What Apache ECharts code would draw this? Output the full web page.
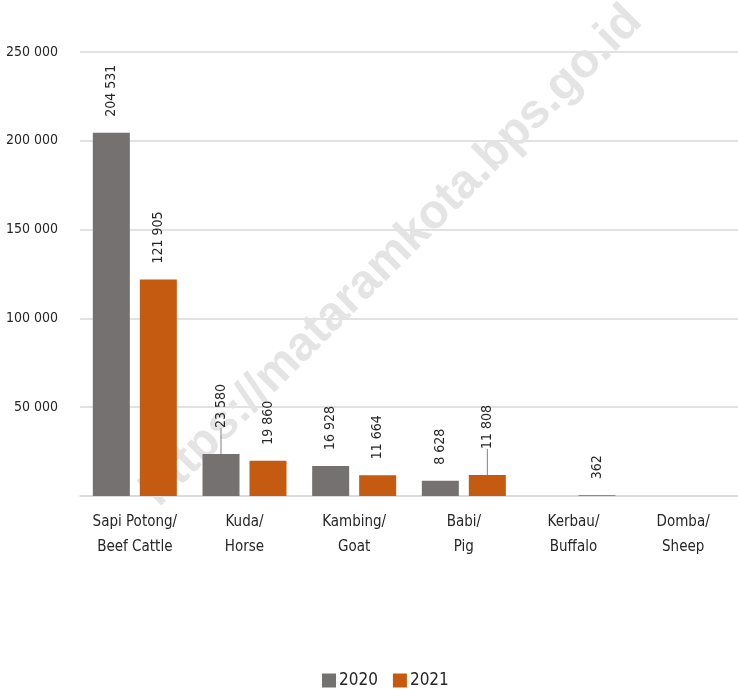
<!DOCTYPE html>
<html>
<head>
<meta charset="utf-8">
<script src="https://cdn.jsdelivr.net/npm/echarts@6/dist/echarts.min.js"></script>
<style>html,body{margin:0;padding:0;background:#fff}#c{width:738px;height:690px}</style>
</head>
<body>
<div id="c"></div>
<script>
var categories = ['Sapi Potong/\nBeef Cattle', 'Kuda/\nHorse', 'Kambing/\nGoat', 'Babi/\nPig', 'Kerbau/\nBuffalo', 'Domba/\nSheep'];
var values2020 = [204531, 23580, 16928, 8628, null, null];
var values2021 = [121905, 19860, 11664, 11808, 362, null];
var seriesNames = ['2020', '2021'];
var yTicks = [0, 50000, 100000, 150000, 200000, 250000];
var leaderLines2020 = [1];
var leaderLines2021 = [3];

var FONT = '"DejaVu Sans Condensed", "Liberation Sans Narrow", sans-serif';
function fmt(v) {
  if (v === null || v === undefined || v === 0) return '';
  return String(v).replace(/\B(?=(\d{3})+(?!\d))/g, ' ');
}
function buildData(arr, leaders) {
  return arr.map(function (v, i) {
    if (leaders.indexOf(i) >= 0) {
      return { value: v, label: { distance: 26 }, labelLine: { show: true } };
    }
    return v;
  });
}
var chart = echarts.init(document.getElementById('c'), null, { renderer: 'canvas' });
var labelCfg = {
  show: true, position: 'top', rotate: 90, align: 'left', verticalAlign: 'middle',
  distance: 16, fontFamily: FONT, fontSize: 14, color: '#262626',
  formatter: function (p) { return fmt(p.value); }
};
chart.setOption({
  animation: false,
  graphic: [{
    type: 'text', z: 1, silent: true,
    x: 392, y: 256, rotation: Math.PI / 4,
    style: {
      text: 'https://mataramkota.bps.go.id', fill: '#e4e4e4',
      font: 'bold 48px "Liberation Sans", Arial, sans-serif',
      textAlign: 'center', textVerticalAlign: 'middle'
    }
  }],
  grid: { left: 80, right: 0, top: 52, bottom: 194, containLabel: false },
  legend: {
    data: seriesNames, top: 672, left: 322, icon: 'rect', padding: 0,
    itemWidth: 14, itemHeight: 14, itemGap: 15,
    textStyle: { fontFamily: FONT, fontSize: 17, color: '#262626', padding: [0, 0, 0, -2] }
  },
  xAxis: {
    type: 'category', data: categories,
    axisLine: { show: true, lineStyle: { color: '#d9d9d9', width: 1.5 } },
    axisTick: { show: false },
    axisLabel: { fontFamily: FONT, fontSize: 15, color: '#262626', lineHeight: 25, margin: 14, interval: 0 }
  },
  yAxis: {
    type: 'value', min: yTicks[0], max: yTicks[yTicks.length - 1], interval: yTicks[1] - yTicks[0],
    axisLine: { show: false }, axisTick: { show: false },
    splitLine: { lineStyle: { color: '#d9d9d9', width: 1.5 } },
    axisLabel: { fontFamily: FONT, fontSize: 14, color: '#262626', margin: 22,
      formatter: function (v) { return v === 0 ? '' : fmt(v); } }
  },
  series: [
    { name: seriesNames[0], type: 'bar', data: buildData(values2020, leaderLines2020), barWidth: 37, barGap: '27%',
      itemStyle: { color: '#767171' }, label: labelCfg, z: 3,
      labelLine: { show: false, lineStyle: { color: '#7f7f7f', width: 1 } } },
    { name: seriesNames[1], type: 'bar', data: buildData(values2021, leaderLines2021), barWidth: 37,
      itemStyle: { color: '#c55a11' }, label: labelCfg, z: 3,
      labelLine: { show: false, lineStyle: { color: '#7f7f7f', width: 1 } } }
  ]
});
</script>
</body>
</html>
